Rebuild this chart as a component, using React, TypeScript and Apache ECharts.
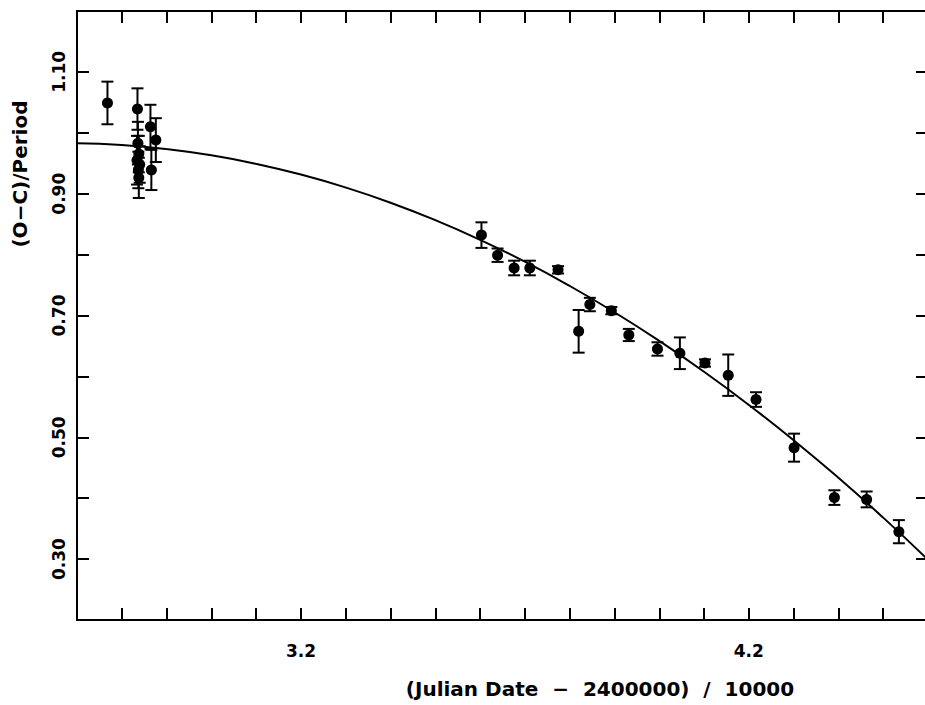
import React, { useEffect, useRef } from "react";
import * as echarts from "echarts";

// Observations: (JD - 2400000)/10000, (O-C)/Period, error half-length
const obsX = [
  2.768, 2.835, 2.836, 2.838, 2.834, 2.840, 2.837, 2.838, 2.864, 2.876, 2.866,
  3.603, 3.639, 3.676, 3.711, 3.774, 3.820, 3.845, 3.893, 3.932, 3.996,
  4.046, 4.102, 4.154, 4.216, 4.301, 4.391, 4.463, 4.535,
];
const obsY = [
  1.049, 1.039, 0.983, 0.965, 0.955, 0.948, 0.939, 0.926, 1.010, 0.988, 0.939,
  0.832, 0.799, 0.778, 0.778, 0.775, 0.674, 0.718, 0.708, 0.668, 0.645,
  0.638, 0.622, 0.602, 0.562, 0.483, 0.401, 0.398, 0.345,
];
const obsErr = [
  0.035, 0.034, 0.035, 0.030, 0.040, 0.030, 0.030, 0.033, 0.036, 0.036, 0.033,
  0.021, 0.011, 0.012, 0.012, 0.006, 0.035, 0.011, 0.006, 0.010, 0.011,
  0.026, 0.006, 0.034, 0.012, 0.023, 0.012, 0.013, 0.019,
];

// Fitted curve
const fitX = [
  2.7, 2.8, 2.9, 3.0, 3.1, 3.2, 3.3, 3.4, 3.5, 3.6, 3.7, 3.8, 3.9, 4.0, 4.1,
  4.2, 4.3, 4.4, 4.5, 4.6,
];
const fitY = [
  0.9827, 0.9798, 0.9732, 0.963, 0.949, 0.9314, 0.9101, 0.8852, 0.8566,
  0.8243, 0.7883, 0.7486, 0.7053, 0.6583, 0.6076, 0.5532, 0.4952, 0.4335,
  0.3681, 0.2991,
];

const xTickLabels = [3.2, 4.2];
const yTickLabels = [0.3, 0.5, 0.7, 0.9, 1.1];

const FONT = '"DejaVu Sans", sans-serif';

export default function App() {
  const ref = useRef<HTMLDivElement>(null);

  useEffect(() => {
    if (!ref.current) return;
    const chart = echarts.init(ref.current, null, { renderer: "svg" });

    const pts = obsX.map((x, i) => [x, obsY[i], obsErr[i]]);
    const fit = fitX.map((x, i) => [x, fitY[i]]);

    const black = "#000";
    const axisLine = { show: true, onZero: false, lineStyle: { color: black, width: 2 } };
    const tick = { show: true, inside: true, length: 12, lineStyle: { color: black, width: 2 } };

    const xLabelFmt = (v: number) =>
      xTickLabels.some((t) => Math.abs(t - v) < 1e-6) ? v.toFixed(1) : "";
    const yLabelFmt = (v: number) =>
      yTickLabels.some((t) => Math.abs(t - v) < 1e-6) ? v.toFixed(2) : "";

    const option: any = {
      animation: false,
      backgroundColor: "#fff",
      grid: {
        left: 77,
        top: 11,
        width: 851,
        height: 609,
        containLabel: false,
        outerBoundsMode: "none",
      },
      xAxis: [
        {
          type: "value",
          position: "bottom",
          min: 2.7,
          max: 4.6,
          interval: 0.1,
          axisLine,
          axisTick: tick,
          splitLine: { show: false },
          axisLabel: {
            show: true,
            formatter: xLabelFmt,
            margin: 22,
            color: black,
            fontSize: 17,
            fontWeight: "bold",
            fontFamily: FONT,
            showMinLabel: true,
            showMaxLabel: true,
            hideOverlap: false,
          },
        },
        {
          type: "value",
          position: "top",
          min: 2.7,
          max: 4.6,
          interval: 0.1,
          axisLine,
          axisTick: tick,
          splitLine: { show: false },
          axisLabel: { show: false },
        },
      ],
      yAxis: [
        {
          type: "value",
          position: "left",
          min: 0.2,
          max: 1.2,
          interval: 0.1,
          axisLine,
          axisTick: tick,
          splitLine: { show: false },
          axisLabel: {
            show: true,
            rotate: 90,
            formatter: yLabelFmt,
            margin: 10,
            color: black,
            fontSize: 17,
            fontWeight: "bold",
            fontFamily: FONT,
            showMinLabel: true,
            showMaxLabel: true,
          },
        },
        {
          type: "value",
          position: "right",
          min: 0.2,
          max: 1.2,
          interval: 0.1,
          axisLine: { show: false },
          axisTick: tick,
          splitLine: { show: false },
          axisLabel: { show: false },
        },
      ],
      graphic: [
        {
          type: "text",
          x: 20,
          y: 174,
          rotation: Math.PI / 2,
          style: {
            text: "(O\u2212C)/Period",
            fontSize: 20,
            fontWeight: "bold",
            fontFamily: FONT,
            fill: black,
            textAlign: "center",
            textVerticalAlign: "middle",
          },
        },
        {
          type: "text",
          x: 600,
          y: 689,
          style: {
            text: "(Julian Date  \u2212  2400000)  /  10000",
            fontSize: 20,
            fontWeight: "bold",
            fontFamily: FONT,
            fill: black,
            textAlign: "center",
            textVerticalAlign: "middle",
          },
        },
      ],
      series: [
        {
          type: "line",
          data: fit,
          smooth: true,
          showSymbol: false,
          symbol: "none",
          lineStyle: { color: black, width: 2 },
          clip: true,
          z: 2,
        },
        {
          type: "custom",
          data: pts,
          encode: { x: 0, y: 1 },
          clip: true,
          z: 3,
          renderItem: (params: any, api: any) => {
            const x = api.value(0);
            const y = api.value(1);
            const e = api.value(2);
            const top = api.coord([x, y + e]);
            const bot = api.coord([x, y - e]);
            const hw = 6;
            const st = { stroke: black, lineWidth: 2 };
            return {
              type: "group",
              children: [
                { type: "line", shape: { x1: top[0], y1: top[1], x2: bot[0], y2: bot[1] }, style: st },
                { type: "line", shape: { x1: top[0] - hw, y1: top[1], x2: top[0] + hw, y2: top[1] }, style: st },
                { type: "line", shape: { x1: bot[0] - hw, y1: bot[1], x2: bot[0] + hw, y2: bot[1] }, style: st },
              ],
            };
          },
        },
        {
          type: "scatter",
          data: pts.map((p) => [p[0], p[1]]),
          symbol: "circle",
          symbolSize: 11,
          itemStyle: { color: black, opacity: 1 },
          z: 4,
        },
      ],
    };

    chart.setOption(option);
    return () => chart.dispose();
  }, []);

  return (
    <div
      ref={ref}
      style={{ position: "fixed", left: 0, top: 0, width: 925, height: 705, background: "#fff" }}
    />
  );
}
